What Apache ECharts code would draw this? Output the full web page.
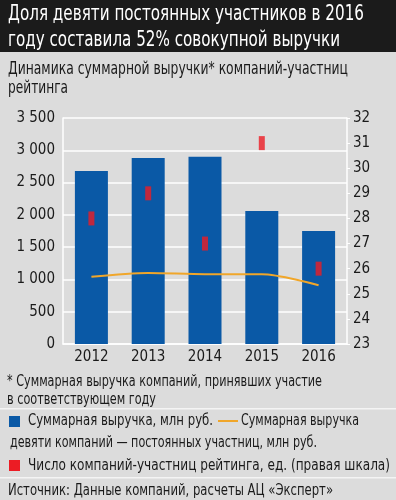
<!DOCTYPE html>
<html>
<head>
<meta charset="utf-8">
<script src="https://cdn.jsdelivr.net/npm/echarts@6/dist/echarts.min.js"></script>
<style>
    html, body { margin: 0; padding: 0; background: #dcdcdc; }
    #main { width: 396px; height: 500px; }
</style>
</head>
<body>
<div id="main"></div>
<script type="text/javascript">
    var years = ['2012', '2013', '2014', '2015', '2016'];
    var totalRevenue = [2680, 2880, 2900, 2060, 1750];
    var nineRevenue = [1040, 1100, 1080, 1080, 910];
    var participants = [28, 29, 27, 31, 26];

    var FONT = '"Liberation Sans Narrow", "DejaVu Sans Condensed", sans-serif';
    var txt = '#1a1a1a';
    var ctx = document.createElement('canvas').getContext('2d');

    // one line of text squeezed to span from x1 to x2, y is the line's middle
    function fitLine(x1, x2, y, text, size, color) {
        ctx.font = size + 'px ' + FONT;
        var w = ctx.measureText(text).width;
        return {
            type: 'text', x: x1, y: y, scaleX: (x2 - x1) / w,
            style: { text: text, fill: color || txt, font: size + 'px ' + FONT, verticalAlign: 'middle' }
        };
    }

    var myChart = echarts.init(document.getElementById('main'));
    var option = {
        backgroundColor: '#dcdcdc',
        animation: false,
        grid: { left: 63, right: 49, top: 118, bottom: 156 },
        xAxis: {
            type: 'category',
            data: years,
            axisLine: { show: true, lineStyle: { color: '#ffffff', width: 1.5 } },
            axisTick: { show: false },
            axisLabel: { color: txt, fontSize: 15, fontFamily: FONT, margin: 6 }
        },
        yAxis: [
            {
                type: 'value', min: 0, max: 3500, interval: 500,
                axisLine: { show: true, lineStyle: { color: '#ffffff', width: 1.5 } },
                splitLine: { show: true, lineStyle: { color: '#ffffff', width: 1.5 } },
                axisLabel: {
                    color: txt, fontSize: 15, fontFamily: FONT, margin: 8,
                    formatter: function (v) { return v >= 1000 ? Math.floor(v / 1000) + ' ' + String(v % 1000).padStart(3, '0') : v; }
                }
            },
            {
                type: 'value', min: 23, max: 32, interval: 1,
                position: 'right',
                axisLine: { show: true, lineStyle: { color: '#ffffff', width: 1.5 } },
                axisTick: { show: true, length: 3, lineStyle: { color: '#ffffff' } },
                splitLine: { show: false },
                axisLabel: { color: txt, fontSize: 15, fontFamily: FONT, margin: 6 }
            }
        ],
        series: [
            {
                name: 'Суммарная выручка, млн руб.',
                type: 'bar',
                data: totalRevenue,
                barWidth: 33,
                itemStyle: { color: '#0a59a6' }
            },
            {
                name: 'Суммарная выручка девяти компаний',
                type: 'line',
                data: nineRevenue,
                smooth: 0.3,
                symbol: 'none',
                lineStyle: { color: '#f0a62a', width: 2 }
            },
            {
                name: 'Число компаний-участниц',
                type: 'scatter',
                yAxisIndex: 1,
                data: participants,
                symbol: 'rect',
                symbolSize: [6, 14],
                itemStyle: { color: '#ec1c24' }
            }
        ],
        graphic: [
            { type: 'rect', left: 0, top: 0, shape: { width: 396, height: 52 }, style: { fill: '#1b1b1b' } },
            fitLine(8, 364, 14, 'Доля девяти постоянных участников в 2016', 22, '#ffffff'),
            fitLine(8, 340, 40, 'году составила 52% совокупной выручки', 22, '#ffffff'),
            fitLine(8, 348, 69, 'Динамика суммарной выручки* компаний-участниц', 18),
            fitLine(8, 68, 88, 'рейтинга', 18),
            fitLine(7, 322, 382, '* Суммарная выручка компаний, принявших участие', 16),
            fitLine(7, 156, 400, 'в соответствующем году', 16),
            { type: 'rect', left: 0, top: 408, shape: { width: 396, height: 1.5 }, style: { fill: '#f4f4f4' } },
            { type: 'rect', left: 9, top: 416, shape: { width: 11, height: 11 }, style: { fill: '#0a59a6' } },
            fitLine(28, 213, 421, 'Суммарная выручка, млн руб.', 16),
            { type: 'rect', left: 218, top: 420, shape: { width: 20, height: 2 }, style: { fill: '#f0a62a' } },
            fitLine(241, 359, 421, 'Суммарная выручка', 16),
            fitLine(10, 317, 443, 'девяти компаний — постоянных участниц, млн руб.', 16),
            { type: 'rect', left: 9, top: 460, shape: { width: 11, height: 11 }, style: { fill: '#ec1c24' } },
            fitLine(28, 390, 466, 'Число компаний-участниц рейтинга, ед. (правая шкала)', 16),
            { type: 'rect', left: 0, top: 477, shape: { width: 396, height: 1.5 }, style: { fill: '#f4f4f4' } },
            fitLine(8, 333, 491, 'Источник: Данные компаний, расчеты АЦ «Эксперт»', 16)
        ]
    };

    myChart.setOption(option);
</script>
</body>
</html>
